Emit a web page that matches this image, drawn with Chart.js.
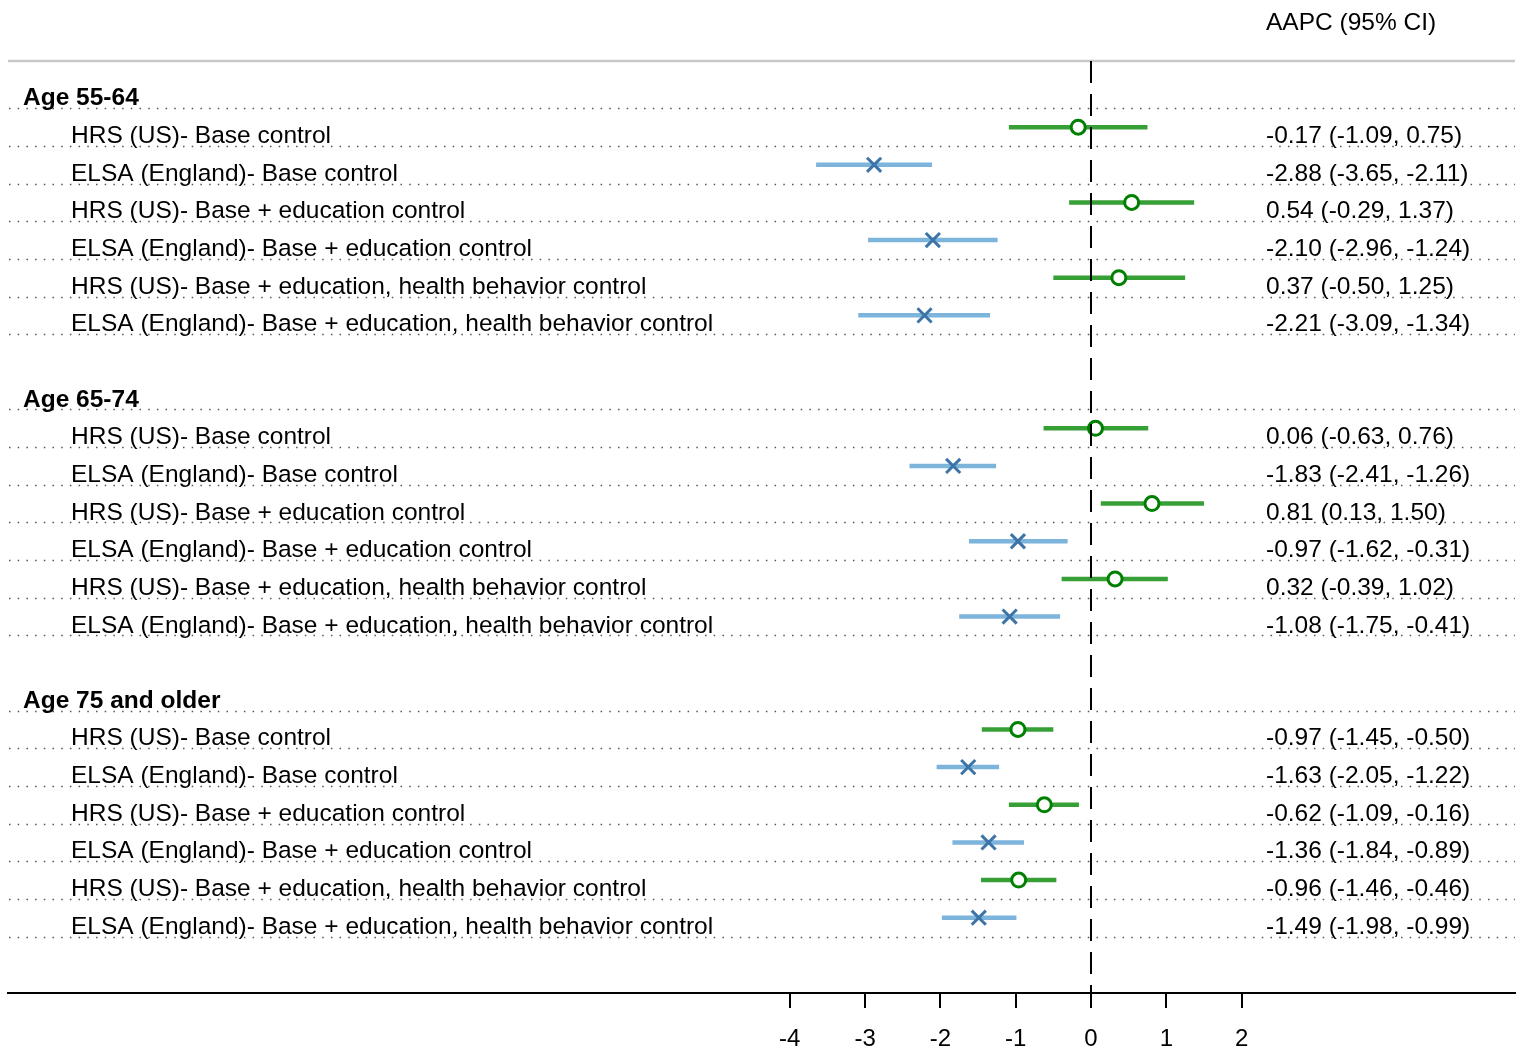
<!DOCTYPE html>
<html>
<head>
<meta charset="utf-8">
<title>AAPC forest plot</title>
<script src="https://cdn.jsdelivr.net/npm/chart.js@4/dist/chart.umd.min.js"></script>
<style>
  html, body { margin: 0; padding: 0; background: #fff; }
  #wrap { width: 1518px; height: 1048px; }
</style>
</head>
<body>
<div id="wrap"><canvas id="chart" width="1518" height="1048"></canvas></div>
<script>
// ---- data -------------------------------------------------------------
const ageGroups = ['Age 55-64', 'Age 65-74', 'Age 75 and older'];
const modelLabels = [
  'HRS (US)- Base control',
  'ELSA (England)- Base control',
  'HRS (US)- Base + education control',
  'ELSA (England)- Base + education control',
  'HRS (US)- Base + education, health behavior control',
  'ELSA (England)- Base + education, health behavior control'
];
// AAPC estimates and 95% CI, six models per age group
const aapc   = [-0.17, -2.88,  0.54, -2.10,  0.37, -2.21,
                 0.06, -1.83,  0.81, -0.97,  0.32, -1.08,
                -0.97, -1.63, -0.62, -1.36, -0.96, -1.49];
const ciLow  = [-1.09, -3.65, -0.29, -2.96, -0.50, -3.09,
                -0.63, -2.41,  0.13, -1.62, -0.39, -1.75,
                -1.45, -2.05, -1.09, -1.84, -1.46, -1.98];
const ciHigh = [ 0.75, -2.11,  1.37, -1.24,  1.25, -1.34,
                 0.76, -1.26,  1.50, -0.31,  1.02, -0.41,
                -0.50, -1.22, -0.16, -0.89, -0.46, -0.99];
const xTicks = [-4, -3, -2, -1, 0, 1, 2];
const columnTitle = 'AAPC (95% CI)';

// ---- layout helpers ---------------------------------------------------
const FONT = '"Liberation Sans", Arial, Helvetica, sans-serif';
const TEXT_SIZE = 24.5;
const HRS_LINE = '#36a036', HRS_MARK = '#008000';
const ELSA_LINE = '#7db4dc', ELSA_MARK = '#3d74a8';
const SLOTS_PER_GROUP = 8;          // header + 6 models + blank spacer

const rows = [];                    // one entry per drawn line of the table
ageGroups.forEach((g, gi) => {
  rows.push({ slot: gi * SLOTS_PER_GROUP, header: g });
  modelLabels.forEach((m, mi) => {
    const i = gi * modelLabels.length + mi;
    rows.push({ slot: gi * SLOTS_PER_GROUP + 1 + mi, label: m, idx: i, hrs: mi % 2 === 0 });
  });
});
const fmt = v => v.toFixed(2);

// ---- datasets ---------------------------------------------------------
const datasets = [];
const dataRows = rows.filter(r => r.label);
datasets.push({
  type: 'scatter', label: 'HRS', order: 0,
  data: dataRows.filter(r => r.hrs).map(r => ({ x: aapc[r.idx], y: r.slot })),
  pointStyle: 'circle', pointRadius: 7, pointBorderWidth: 3,
  pointBorderColor: HRS_MARK, pointBackgroundColor: '#ffffff'
});
datasets.push({
  type: 'scatter', label: 'ELSA', order: 0,
  data: dataRows.filter(r => !r.hrs).map(r => ({ x: aapc[r.idx], y: r.slot })),
  pointStyle: 'crossRot', pointRadius: 10, pointBorderWidth: 3,
  pointBorderColor: ELSA_MARK, pointBackgroundColor: ELSA_MARK
});
dataRows.forEach(r => {
  datasets.push({
    type: 'line', label: 'ci' + r.idx, order: 1,
    data: [{ x: ciLow[r.idx], y: r.slot }, { x: ciHigh[r.idx], y: r.slot }],
    borderColor: r.hrs ? HRS_LINE : ELSA_LINE, borderWidth: 4.5,
    borderCapStyle: 'butt', pointRadius: 0, fill: false, tension: 0
  });
});

// ---- table decorations: rules, dotted row lines, labels ---------------
const tablePlugin = {
  id: 'tableText',
  beforeDatasetsDraw(chart) {
    const { ctx, chartArea: a, scales: { y } } = chart;
    ctx.save();
    // light rule under the column title
    ctx.strokeStyle = '#c8c8c8';
    ctx.lineWidth = 2.5;
    ctx.beginPath(); ctx.moveTo(a.left, a.top); ctx.lineTo(a.right, a.top); ctx.stroke();
    // dotted separators under every row
    ctx.strokeStyle = '#555';
    ctx.lineWidth = 1.5;
    ctx.setLineDash([1.5, 7.2]);
    rows.forEach(r => {
      const py = Math.round(y.getPixelForValue(r.slot + 0.5)) + 0.5;
      ctx.beginPath(); ctx.moveTo(a.left + 1, py); ctx.lineTo(a.right, py); ctx.stroke();
    });
    ctx.restore();
  },
  afterDatasetsDraw(chart) {
    const { ctx, chartArea: a, scales: { x, y } } = chart;
    ctx.save();
    // reference line at zero
    const px0 = x.getPixelForValue(0);
    ctx.strokeStyle = '#000';
    ctx.lineWidth = 2;
    ctx.setLineDash([22, 11]);
    ctx.beginPath(); ctx.moveTo(px0, a.top); ctx.lineTo(px0, a.bottom); ctx.stroke();
    ctx.setLineDash([]);

    ctx.fillStyle = '#000';
    ctx.textBaseline = 'alphabetic';
    ctx.textAlign = 'left';
    ctx.font = TEXT_SIZE + 'px ' + FONT;
    ctx.fillText(columnTitle, 1266, 30);
    rows.forEach(r => {
      const base = y.getPixelForValue(r.slot) + 16;
      if (r.header) {
        ctx.font = 'bold ' + TEXT_SIZE + 'px ' + FONT;
        ctx.fillText(r.header, 23, base);
      } else {
        ctx.font = TEXT_SIZE + 'px ' + FONT;
        ctx.fillText(r.label, 71, base);
        const txt = fmt(aapc[r.idx]) + ' (' + fmt(ciLow[r.idx]) + ', ' + fmt(ciHigh[r.idx]) + ')';
        ctx.fillText(txt, 1266, base);
      }
    });
    ctx.restore();
  }
};

new Chart(document.getElementById('chart'), {
  data: { datasets },
  options: {
    responsive: false,
    devicePixelRatio: 1,
    animation: false,
    layout: { autoPadding: false, padding: { left: 8, right: 3, top: 61, bottom: 0 } },
    plugins: { legend: { display: false }, tooltip: { enabled: false } },
    scales: {
      x: {
        type: 'linear', position: 'bottom',
        min: -14.38, max: 5.63,
        afterBuildTicks: s => { s.ticks = xTicks.map(v => ({ value: v })); },
        afterFit: s => { s.height = 55; s.paddingLeft = 0; s.paddingRight = 0; },
        ticks: { autoSkip: false, color: '#000', padding: 17, font: { family: FONT, size: 24 } },
        grid: { display: true, drawOnChartArea: false, drawTicks: true, tickLength: 15, color: '#000', lineWidth: 2 },
        border: { display: true, color: '#000', width: 2 }
      },
      y: {
        type: 'linear', display: false, reverse: true,
        min: -0.757, max: 24.0
      }
    }
  },
  plugins: [tablePlugin]
});
</script>
</body>
</html>
